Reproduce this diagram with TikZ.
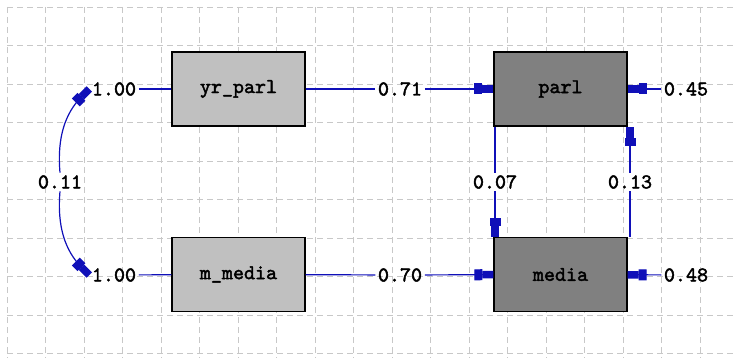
\documentclass[tikz,border=0pt]{standalone}
\usepackage{fontspec}
\usepackage{tikz}
\usetikzlibrary{positioning, arrows.meta, calc}
\newfontfamily\amosfont[AutoFakeBold=2]{lmmono10-regular.otf}
\definecolor{pathc}{HTML}{1010B8}
\definecolor{obsc}{HTML}{C0C0C0}
\definecolor{endc}{HTML}{808080}
\definecolor{gridc}{HTML}{C8C8C8}
\tikzset{
  exobox/.style={draw=black, fill=obsc, line width=1.4pt, minimum width=133pt,
                 minimum height=74pt, inner sep=0pt,
                 font=\amosfont\bfseries\fontsize{21}{24}\selectfont},
  enbox/.style={exobox, fill=endc},
  est/.style={inner sep=2.5pt, text=black,
              font=\amosfont\bfseries\fontsize{21}{24}\selectfont},
  pth/.style={draw=pathc, line width=1.2pt},
  arr/.style={pth, -{Rectangle[length=8pt,width=11pt,sep=0pt]Rectangle[length=11pt,width=7.5pt]}},
  gridln/.style={draw=gridc, line width=0.8pt, dash pattern=on 6pt off 4pt},
}

\begin{document}
\begin{tikzpicture}[x=1pt, y=-1pt]
  \useasboundingbox (0,0) rectangle (733,358);
  % background grid
  \foreach \gx in {0,...,18}
    \draw[gridln] ({7+38.5*\gx},7) -- ({7+38.5*\gx},358);
  \foreach \gy in {0,...,9}
    \draw[gridln] (7,{7+38.5*\gy}) -- (733,{7+38.5*\gy});
  % variables
  \node[exobox] (yrparl) at (238.5,89) {yr\_parl};
  \node[exobox] (mmedia) at (238.5,274.5) {m\_media};
  \node[enbox] (parl) at (560.5,89) {parl};
  \node[enbox] (media) at (560.5,274.5) {media};
  % estimates
  \node[est] (v1) at (114,89) {1.00};
  \node[est] (v2) at (114,275) {1.00};
  \node[est] (cov) at (60,182) {0.11};
  \node[est] (b1) at (400,89) {0.71};
  \node[est] (b2) at (400,275) {0.70};
  \node[est] (r1) at (686,89) {0.45};
  \node[est] (r2) at (686,275) {0.48};
  \node[est] (p1) at (495,182) {0.07};
  \node[est] (p2) at (630,182) {0.13};
  % paths
  \draw[pth] (v1) -- (yrparl);
  \draw[pth] (v2) -- (mmedia);
  \draw[pth] (yrparl) -- (b1);
  \draw[arr] (b1) -- (parl);
  \draw[pth] (mmedia) -- (b2);
  \draw[arr] (b2) -- (media);
  \draw[arr] (r1) -- (parl);
  \draw[arr] (r2) -- (media);
  \draw[pth] (p1.north) -- (p1.north |- parl.south);
  \draw[arr] (p1.south) -- (p1.south |- media.north);
  \draw[pth] (p2.south) -- (p2.south |- media.north);
  \draw[arr] (p2.north) -- (p2.north |- parl.south);
  \draw[arr] (cov.north) to[out=95, in=-135] (v1.west);
  \draw[arr] (cov.south) to[out=-95, in=135] (v2.west);
\end{tikzpicture}
\end{document}
